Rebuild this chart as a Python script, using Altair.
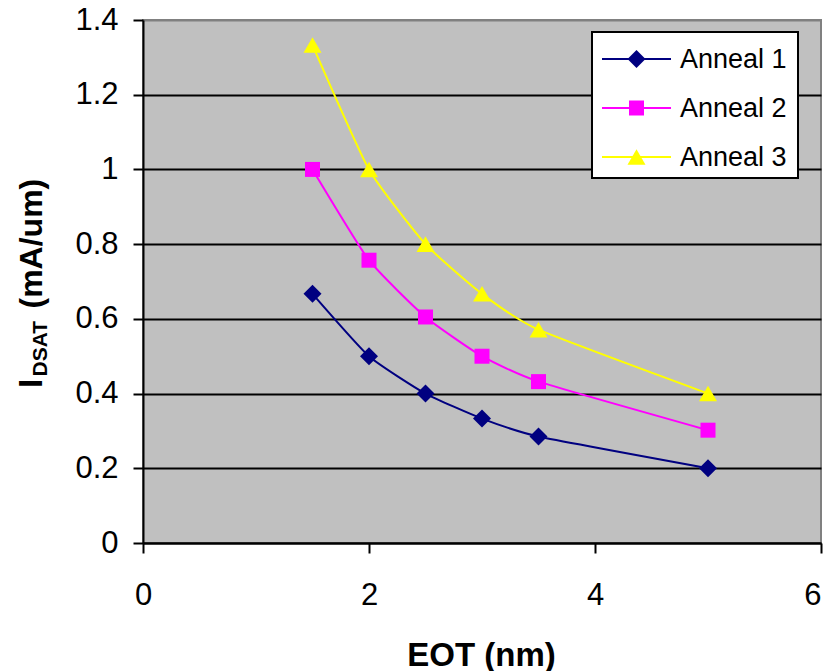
import altair as alt
import pandas as pd

# ---------------- data ----------------
eot = [1.5, 2.0, 2.5, 3.0, 3.5, 5.0]
anneal_1 = [0.667, 0.5, 0.4, 0.333, 0.285, 0.2]
anneal_2 = [1.0, 0.757, 0.605, 0.5, 0.432, 0.302]
anneal_3 = [1.333, 1.0, 0.8, 0.667, 0.571, 0.4]

series_names = ["Anneal 1", "Anneal 2", "Anneal 3"]
series_colors = ["#000080", "#FF00FF", "#FFFF00"]
marker_shapes = ["diamond", "square", "triangle-up"]
marker_sizes = [324, 225, 324]

x_ticks = [0, 2, 4, 6]
y_ticks = [0, 0.2, 0.4, 0.6, 0.8, 1.0, 1.2, 1.4]

x_title = ["EOT (nm)"]
y_title_main = ["I"]
y_title_sub = ["DSAT"]
y_title_unit = ["(mA/um)"]

rows = []
for name, vals in zip(series_names, [anneal_1, anneal_2, anneal_3]):
    for e, v in zip(eot, vals):
        rows.append({"EOT": e, "value": v, "series": name})
df = pd.DataFrame(rows)

FONT = "Liberation Sans"
color_scale = alt.Scale(domain=series_names, range=series_colors)

x_enc = alt.X(
    "EOT:Q",
    scale=alt.Scale(domain=[0, 6], nice=False),
    axis=alt.Axis(
        values=x_ticks, format="d", grid=False, title=None,
        labelPadding=27, labelFlush=False,
        labelAlign={"condition": {"test": "datum.value > 5.5", "value": "right"}, "value": "center"},
    ),
)
y_enc = alt.Y(
    "value:Q",
    scale=alt.Scale(domain=[0, 1.4], nice=False),
    axis=alt.Axis(
        values=y_ticks,
        format="~g",
        grid=True,
        gridWidth=2,
        gridColor={"condition": {"test": "datum.value > 1.35", "value": "#808080"}, "value": "black"},
        title=None,
        labelPadding=15,
    ),
)

base = alt.Chart(df)

lines = base.mark_line(interpolate="cardinal", tension=0.5, strokeWidth=2).encode(
    x=x_enc,
    y=y_enc,
    color=alt.Color("series:N", scale=color_scale, legend=None),
)

point_layers = []
for name, col, shp, sz in zip(series_names, series_colors, marker_shapes, marker_sizes):
    point_layers.append(
        base.transform_filter(alt.datum.series == name)
        .mark_point(shape=shp, filled=True, size=sz, color=col, opacity=1)
        .encode(x="EOT:Q", y="value:Q")
    )

# ---------------- legend (drawn as a small panel) ----------------
LEG_X0, LEG_X1, LEG_Y0, LEG_Y1 = 449, 655, 12, 158
ROW0, ROW_STEP = 39, 49
leg_df = pd.DataFrame({
    "series": series_names,
    "ly": [ROW0 + ROW_STEP * i for i in range(len(series_names))],
})
leg_df["ly_text"] = leg_df["ly"] + 1

leg_box = alt.Chart(pd.DataFrame({"a": [0]})).mark_rect(
    fill="white", stroke="black", strokeWidth=2
).encode(x=alt.value(LEG_X0), x2=alt.value(LEG_X1), y=alt.value(LEG_Y0), y2=alt.value(LEG_Y1))

leg_base = alt.Chart(leg_df)
leg_lines = leg_base.mark_rule(strokeWidth=2).encode(
    x=alt.value(459), x2=alt.value(528),
    y=alt.Y("ly:Q", scale=None),
    color=alt.Color("series:N", scale=color_scale, legend=None),
)
leg_marks = []
for name, col, shp, sz in zip(series_names, series_colors, marker_shapes, marker_sizes):
    leg_marks.append(
        leg_base.transform_filter(alt.datum.series == name)
        .mark_point(shape=shp, filled=True, size=sz, color=col, opacity=1)
        .encode(x=alt.value(493.5), y=alt.Y("ly:Q", scale=None))
    )
leg_text = leg_base.mark_text(
    font=FONT, fontSize=27, color="black", align="left", baseline="middle"
).encode(x=alt.value(537), y=alt.Y("ly_text:Q", scale=None), text="series:N")

# ---------------- titles ----------------
one = pd.DataFrame({"a": [0]})
xt = alt.Chart(one).mark_text(
    text=x_title[0], font=FONT, fontWeight="bold", fontSize=33, color="black",
    align="center", baseline="alphabetic",
).encode(x=alt.value(338.5), y=alt.value(646))

yt1 = alt.Chart(one).mark_text(
    text=y_title_main[0], font=FONT, fontWeight="bold", fontSize=33, color="black",
    align="left", baseline="alphabetic", angle=270,
).encode(x=alt.value(-101), y=alt.value(368))
yt2 = alt.Chart(one).mark_text(
    text=y_title_sub[0], font=FONT, fontWeight="bold", fontSize=21, color="black",
    align="left", baseline="alphabetic", angle=270,
).encode(x=alt.value(-96), y=alt.value(356.5))
yt3 = alt.Chart(one).mark_text(
    text=y_title_unit[0], font=FONT, fontWeight="bold", fontSize=32, color="black",
    align="left", baseline="alphabetic", angle=270,
).encode(x=alt.value(-101), y=alt.value(288.5))

chart = (
    alt.layer(lines, *point_layers, leg_box, leg_lines, *leg_marks, leg_text, xt, yt1, yt2, yt3)
    .properties(
        width=678,
        height=523,
        autosize=alt.AutoSizeParams(type="none"),
        padding={"left": 135, "top": 12, "right": 4, "bottom": 128},
        background="white",
    )
    .configure_view(fill="#C0C0C0", stroke="#808080", strokeWidth=2)
    .configure_axis(
        domainColor="black", domainWidth=2, tickColor="black", tickWidth=2, tickSize=10,
        labelFont=FONT, labelFontSize=31, labelColor="black",
    )
)

chart.save("out.html", embed_options={"renderer": "svg", "actions": False})
